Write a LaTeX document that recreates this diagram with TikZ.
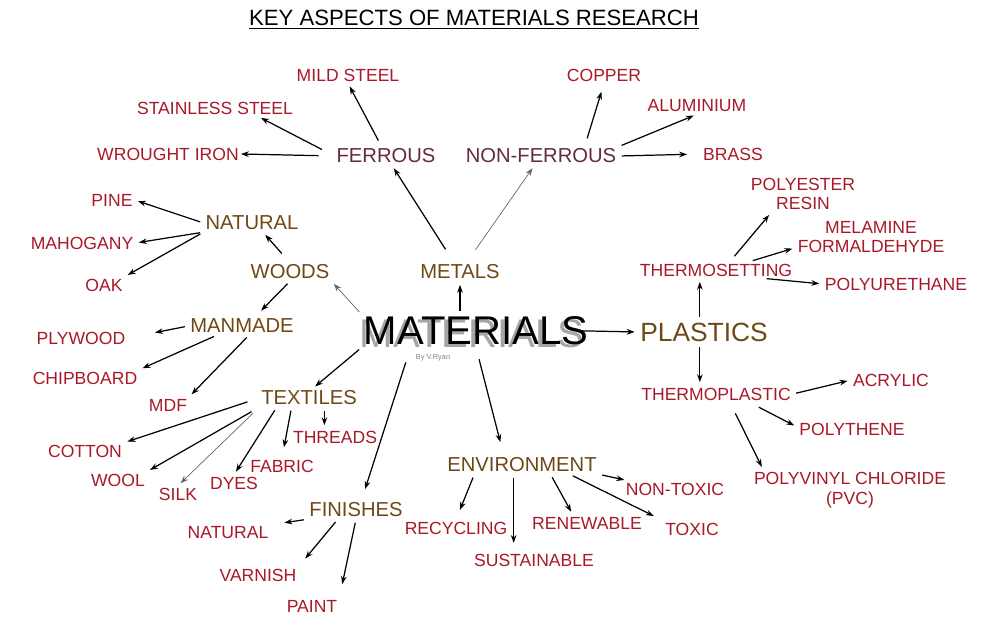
\documentclass[tikz,border=0pt]{standalone}
\usepackage{fontspec}
\setmainfont{Liberation Sans}
\usetikzlibrary{calc,positioning,arrows.meta}
\definecolor{leafred}{RGB}{168,24,40}
\definecolor{topicbrown}{RGB}{110,72,22}
\definecolor{metalmaroon}{RGB}{98,44,60}

\begin{document}
\begin{tikzpicture}[x=0.02cm,y=-0.02cm,inner sep=1pt,
	leaf/.style={text=leafred,font=\fontsize{10}{11.3}\selectfont,align=center},
	topic/.style={text=topicbrown,font=\fontsize{11.5}{13}\selectfont},
	every edge/.style={draw,line width=0.7pt,-{Stealth[length=4.5pt,width=3.2pt]},shorten <=2pt,shorten >=2pt},
	faint/.style={line width=0.4pt,draw=black!60}]
		\useasboundingbox (0,0) rectangle (1000,633);
		\begin{scope}
			\node(0) at (474,20) [font=\fontsize{12.6}{14}\selectfont] {\underline{KEY ASPECTS OF MATERIALS RESEARCH}};
			\node(1s) at (472,334) [inner sep=0pt,text=black!35,font=\fontsize{22.8}{26}\selectfont] {MATERIALS};
			\node(1) at (476,331) [font=\fontsize{22.8}{26}\selectfont] {MATERIALS};
			\node(2) at (433,358) [inner sep=0pt,text=black!50,font=\fontsize{4.2}{5}\selectfont] {By V.Ryan};
			\node(3) at (460,272) [topic] {METALS};
			\node(4) at (386,156) [topic,text=metalmaroon] {FERROUS};
			\node(5) at (541,156) [topic,text=metalmaroon] {NON-FERROUS};
			\node(6) at (348,75) [leaf] {MILD STEEL};
			\node(7) at (215,108) [leaf] {STAINLESS STEEL};
			\node(8) at (168,154) [leaf] {WROUGHT IRON};
			\node(9) at (604,75) [leaf] {COPPER};
			\node(10) at (697,106) [leaf] {ALUMINIUM};
			\node(11) at (733,154) [leaf] {BRASS};
			\node(12) at (290,272) [topic] {WOODS};
			\node(13) at (252,223) [topic] {NATURAL};
			\node(14) at (112,200) [leaf] {PINE};
			\node(15) at (82,243) [leaf] {MAHOGANY};
			\node(16) at (104,285) [leaf] {OAK};
			\node(17) at (242,326) [topic] {MANMADE};
			\node(18) at (81,338) [leaf] {PLYWOOD};
			\node(19) at (85,378) [leaf] {CHIPBOARD};
			\node(20) at (168,405) [leaf] {MDF};
			\node(21) at (309,398) [topic] {TEXTILES};
			\node(22) at (85,451) [leaf] {COTTON};
			\node(23) at (118,480) [leaf] {WOOL};
			\node(24) at (178,494) [leaf] {SILK};
			\node(25) at (234,483) [leaf] {DYES};
			\node(26) at (282,466) [leaf] {FABRIC};
			\node(27) at (335,437) [leaf] {THREADS};
			\node(28) at (356,510) [topic] {FINISHES};
			\node(29) at (228,533) [leaf] {NATURAL};
			\node(30) at (258,575) [leaf] {VARNISH};
			\node(31) at (312,606) [leaf] {PAINT};
			\node(32) at (522,465) [topic] {ENVIRONMENT};
			\node(33) at (456,528) [leaf] {RECYCLING};
			\node(34) at (534,560) [leaf] {SUSTAINABLE};
			\node(35) at (587,523) [leaf] {RENEWABLE};
			\node(36) at (675,489) [leaf] {NON-TOXIC};
			\node(37) at (692,529) [leaf] {TOXIC};
			\node(38) at (704,332) [text=topicbrown,font=\fontsize{15}{17}\selectfont] {PLASTICS};
			\node(39) at (716,270) [leaf] {THERMOSETTING};
			\node(40) at (803,194) [leaf] {POLYESTER\\RESIN};
			\node(41) at (871,237) [leaf] {MELAMINE\\FORMALDEHYDE};
			\node(42) at (896,284) [leaf] {POLYURETHANE};
			\node(43) at (716,394) [leaf] {THERMOPLASTIC};
			\node(44) at (891,380) [leaf] {ACRYLIC};
			\node(45) at (852,429) [leaf] {POLYTHENE};
			\node(46) at (850,490) [leaf] {POLYVINYL CHLORIDE\\(PVC)};
			\path
				(1.north -| 3) edge (3)
				(3) edge[shorten <=9pt] (4)
				(3) edge[faint,shorten <=9pt] (5)
				(4.115) edge[shorten <=4pt] (6.south)
				(4.west) edge[shorten <=8pt] (7.-11)
				(4.west) edge[shorten <=9pt,shorten >=0pt] (8.east)
				(5.12) edge[shorten <=5pt,shorten >=5pt] (9.south)
				(5.north east) edge (10.south)
				(5.east) edge[shorten >=8pt] (11.west)
				(1.north west) edge[faint] (12.south east)
				(12.north) edge[shorten <=7pt] (13.-40)
				(12.south) edge[shorten >=5pt] (17.35)
				(13.west) edge (14.east)
				(13.south west) edge (15.east)
				(13.south west) edge (16.north east)
				(17.west) edge[shorten >=16pt] (18.east)
				(17.-160) edge (19.north east)
				(17.-52) edge (20.north east)
				(1.south west) edge (21.70)
				(1.-166) edge[shorten <=9pt,shorten >=7pt] (28.60)
				(1.south) edge[shorten <=7pt,shorten >=8pt] (32.153)
				(1.east) edge[shorten <=-8pt] (38.west)
				(38.110) edge (38.110 |- 39.south)
				(38.-110) edge (38.-110 |- 43.north)
				(39.31) edge[shorten <=4pt] (40.-150)
				(39.14) edge (41.188)
				(39.-10) edge (42.west)
				(43.east) edge (44.west)
				(43.-14) edge[shorten <=6pt] (45.178)
				(43.-31) edge[shorten <=7pt] (46.167)
				(21.west) edge[shorten <=7pt] (22.north east)
				(21.south west) edge[shorten <=5pt] (23.north east)
				(21.south west) edge[faint,shorten <=5pt] (24.north)
				(21.-164) edge (25.north)
				(21.-152) edge[shorten >=6pt] (26.north)
				(21.-31) edge (21.-31 |- 27.north)
				(28.south west) edge[shorten >=8pt] (29.north east)
				(28.-153) edge[shorten >=6pt] (30.north east)
				(28.south) edge[shorten >=8pt] (31.north east)
				(32.-169) edge[shorten >=6pt] (33.north)
				(32.-132) edge[shorten >=5pt] (32.-132 |- 34.north)
				(32.-18) edge (35.150)
				(32.south east) edge (36.170)
				(32.-11) edge[shorten >=6pt] (37.north west);
		\end{scope}
	\end{tikzpicture}
\end{document}
